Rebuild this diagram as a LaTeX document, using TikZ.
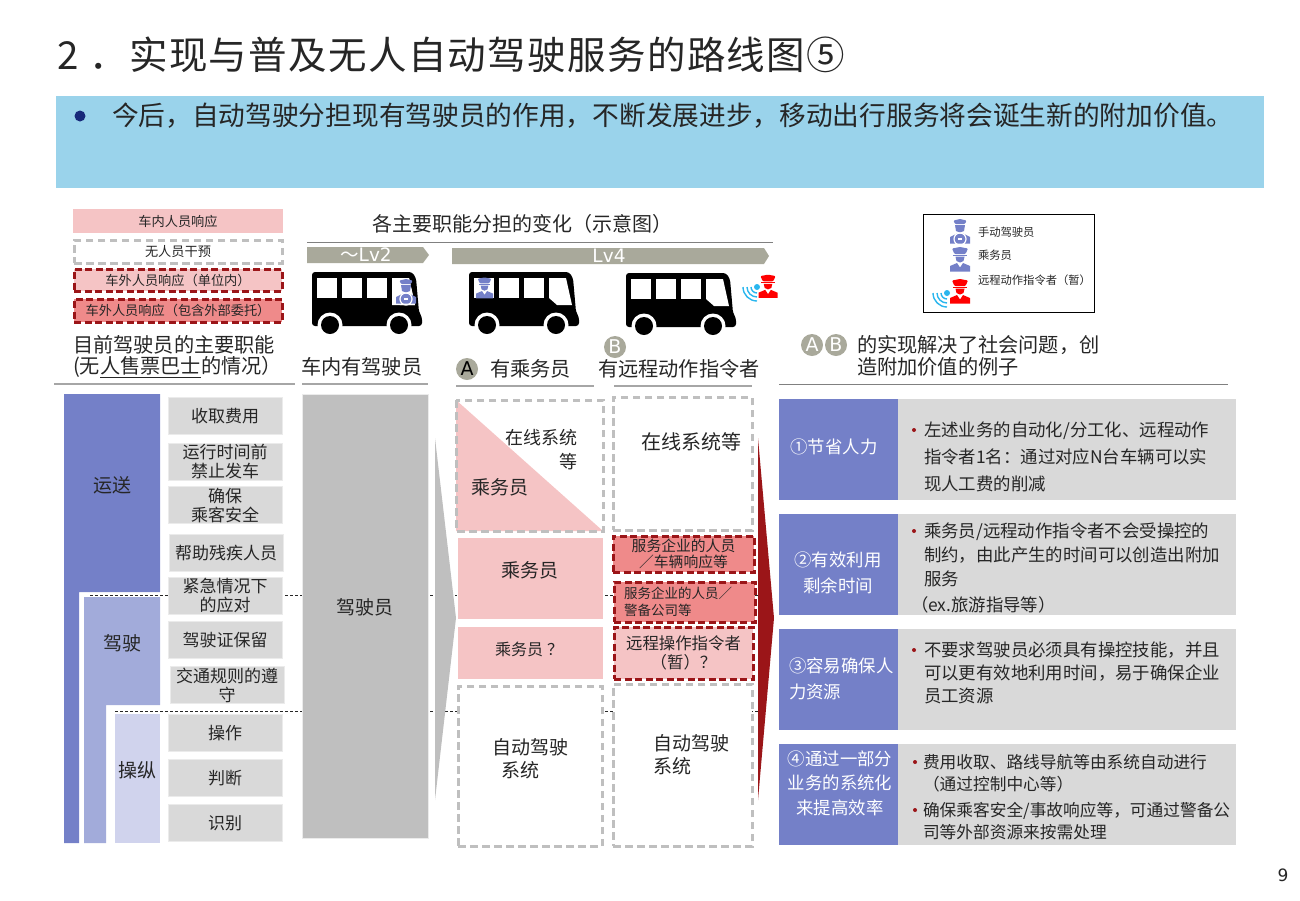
\documentclass[tikz,border=0pt]{standalone}
\usepackage{xcolor}
\usepackage{fontspec}
\setmainfont{Noto Sans CJK SC}
\newfontfamily\latinfont{DejaVu Sans}
\usepackage{tikz}
\usetikzlibrary{positioning}
\definecolor{BannerBlue}{HTML}{9AD3EB}
\definecolor{DotBlue}{HTML}{17297A}
\definecolor{RouteBlue}{HTML}{7480C8}
\definecolor{DriveBlue}{HTML}{A2ABDA}
\definecolor{SteerBlue}{HTML}{D0D3ED}
\definecolor{TaskGray}{HTML}{D9D9D9}
\definecolor{DriverGray}{HTML}{BFBFBF}
\definecolor{RuleGray}{HTML}{A6A6A6}
\definecolor{LvGray}{HTML}{A9A99B}
\definecolor{SoftRed}{HTML}{F5C4C5}
\definecolor{MidRed}{HTML}{EF8A8A}
\definecolor{DarkRed}{HTML}{9B1518}
\definecolor{WifiBlue}{HTML}{29B6EE}
\definecolor{InkGray}{HTML}{262626}
\newcommand{\fsz}[2]{\fontsize{#1}{#2}\selectfont}
\tikzset{
  officer/.pic={
    \fill[rounded corners=1pt] (-8,-11.5) -- (0,-13) -- (8,-11.5) -- (5.5,-6) -- (-5.5,-6) -- cycle;
    \fill (-7,-5.5) -- (7,-5.5) -- (7,-4) -- (-7,-4) -- cycle;
    \fill (-4.5,-3.3) -- (4.5,-3.3) -- (3.5,1) -- (0,2.5) -- (-3.5,1) -- cycle;
    \fill (-10,11.5) -- (-10,6) -- (-3,3) -- (0,7.5) -- (3,3) -- (10,6) -- (10,11.5) -- cycle;
  },
  chauffeur/.pic={
    \fill[rounded corners=1pt] (-6.5,-11.5) -- (0,-13) -- (6.5,-11.5) -- (5,-8) -- (-5,-8) -- cycle;
    \fill (-5,-7) -- (5,-7) -- (4,-1) -- (0,0.5) -- (-4,-1) -- cycle;
    \fill (-10,11.5) -- (-10,5) -- (-3,1.5) -- (3,1.5) -- (10,5) -- (10,11.5) -- cycle;
    \draw[white,line width=1.2pt] (0,7) circle[radius=6pt];
    \fill[white] (-2,6) rectangle (2,8);
  },
  wifi/.pic={
    \fill[WifiBlue] (0,0) circle[radius=3pt];
    \foreach \r in {6,10,14}
      \draw[WifiBlue,line width=1.4pt] (-\r,0) arc[start angle=180,end angle=270,radius=\r pt];
  },
  coach/.pic={
    \fill[black,rounded corners=3pt] (0,0) -- (100,0) -- (104,6) -- (107,40) -- (110,45) -- (110,54) -- (0,54) -- cycle;
    \fill[white] (5,6) rectangle (25,26);
    \fill[white] (30,6) rectangle (50,26);
    \fill[white] (55,6) rectangle (75,26);
    \fill[white] (80,6) -- (97,6) -- (103,33) -- (88,33) -- (80,26) -- cycle;
    \foreach \wx in {18,87} {
      \fill[white] (\wx,53) circle[radius=12.5pt];
      \fill[black] (\wx,53) circle[radius=9pt];
    }
  }
}
\begin{document}
\begin{tikzpicture}[x=1pt,y=-1pt,
  every node/.style={inner sep=0pt,outer sep=0pt,text=InkGray},
  keybox/.style={minimum width=210pt,minimum height=24pt,align=center,font=\fsz{13.2}{15}},
  softbox/.style={fill=SoftRed,draw=white,line width=0.8pt,align=center},
  grayframe/.style={draw=DriverGray,line width=3pt,dash pattern=on 7.5pt off 4.5pt,fill=white},
  redframe/.style={draw=DarkRed,line width=3pt,dash pattern=on 7pt off 3.5pt,align=center},
  taskbox/.style={fill=TaskGray,draw=white!92!black,line width=0.8pt,minimum width=114pt,minimum height=37pt,align=center,font=\fsz{17}{19}},
  head/.style={font=\fsz{20.2}{22},anchor=west,align=left},
  rulegray/.style={draw=RuleGray,line width=1.2pt},
  lvbar/.style={fill=LvGray},
  badge/.style={circle,fill=LvGray,minimum size=22pt,font=\latinfont\fsz{19}{20}},
  gainbox/.style={fill=RouteBlue,minimum width=119pt,minimum height=101pt},
  gainlab/.style={text=white,align=center,font=\fsz{17.4}{26}},
  gainnote/.style={fill=TaskGray,minimum width=338pt,minimum height=101pt},
  note/.style={anchor=west,align=left},
  dot/.style={circle,fill=DarkRed,minimum size=4pt}
]
\useasboundingbox (0,0) rectangle (1300,900);

\node[anchor=west,font=\fsz{38.5}{42}\addfontfeature{LetterSpace=3.5}] (title) at (57,55) {2\hspace{11pt}．实现与普及无人自动驾驶服务的路线图⑤};
\fill[BannerBlue] (56,96) rectangle (1264,188);
\node[circle,fill=DotBlue,minimum size=11pt] (bulletA) at (80,116) {};
\node[anchor=west,font=\fsz{26.7}{30}] (lead) at (112,116) {今后，自动驾驶分担现有驾驶员的作用，不断发展进步，移动出行服务将会诞生新的附加价值。};

\node[keybox,fill=SoftRed] (key1) at (178,221) {车内人员响应};
\node[keybox,grayframe,minimum width=208pt,minimum height=23pt] (key2) at (178,251.5) {无人员干预};
\node[keybox,redframe,fill=SoftRed,minimum width=208pt,minimum height=22pt] (key3) at (178,280) {车外人员响应（单位内）};
\node[keybox,redframe,fill=MidRed,minimum width=208pt,minimum height=23pt] (key4) at (178,310.5) {车外人员响应（包含外部委托）};

\node[font=\fsz{20}{22},anchor=west] (shift) at (372,224) {各主要职能分担的变化（示意图）};
\draw[draw=gray,line width=1pt] (307,242) -- (773,242);
\fill[lvbar] (307,247) -- (423,247) -- (429,255) -- (423,263) -- (307,263) -- cycle;
\node[text=white,font=\fsz{18.5}{20}] (lv2) at (366,255) {～{\latinfont Lv2}};
\fill[lvbar] (452,248) -- (764,248) -- (769,256) -- (764,264) -- (452,264) -- cycle;
\node[text=white,font=\latinfont\fsz{18.5}{20}] (lv4) at (609,256) {Lv4};

\pic at (312,272) {coach};
\pic at (469,272) {coach};
\pic at (626,273) {coach};
\fill[white] (392,278) -- (409,278) -- (415,305) -- (392,305) -- cycle;
\pic[color=RouteBlue,fill=RouteBlue] at (406,292) {chauffeur};
\pic[color=RouteBlue,fill=RouteBlue,scale=0.85] at (484.5,288.5) {officer};
\pic at (757,287) {wifi};
\pic[color=red,fill=red,scale=0.95] at (768,287) {officer};

\node[draw=black,line width=1.4pt,fill=white,minimum width=171pt,minimum height=98pt] (legend) at (1009,263.5) {};
\pic[color=RouteBlue,fill=RouteBlue] at (960,232) {chauffeur};
\pic[color=RouteBlue,fill=RouteBlue] at (960,260) {officer};
\pic at (947,293) {wifi};
\pic[color=red,fill=red] at (960,292) {officer};
\node[anchor=west,font=\fsz{11.3}{12}] (leg1) at (978,232) {手动驾驶员};
\node[anchor=west,font=\fsz{11.3}{12}] (leg2) at (978,255) {乘务员};
\node[anchor=west,font=\fsz{11.3}{12}] (leg3) at (978,280) {远程动作指令者（暂）};

\node[head] (dutyA) at (73,345) {目前驾驶员的主要职能};
\node[head] (dutyB) at (73,367) {(无\underline{人售票巴士}的情况）};
\draw[rulegray] (54,384) -- (295,384);
\node[head] (carA) at (301,367) {车内有驾驶员};
\draw[rulegray] (302,384) -- (428,384);
\node[badge,text=black] (badgeA) at (467,369) {A};
\node[head] (caseA) at (490,369) {有乘务员};
\draw[rulegray] (456,386) -- (594,386);
\node[badge,text=white] (badgeB) at (615,347) {B};
\node[head] (caseB) at (598,369) {有远程动作指令者};
\draw[rulegray] (614,386) -- (752,386);
\node[badge,text=white] (badgeC) at (812,345) {A};
\node[badge,text=white] (badgeD) at (836,345) {B};
\node[head] (gainA) at (857,345) {的实现解决了社会问题，创};
\node[head] (gainB) at (857,367) {造附加价值的例子};
\draw[draw=gray,line width=1pt] (779,384) -- (1228,384);

\fill[RouteBlue] (64,394) -- (160,394) -- (160,592) -- (79,592) -- (79,843) -- (64,843) -- cycle;
\fill[DriveBlue] (84,597) -- (160,597) -- (160,705) -- (106,705) -- (106,843) -- (84,843) -- cycle;
\fill[SteerBlue] (115,714) rectangle (160,843);
\draw[densely dashed,line width=0.7pt,draw=InkGray] (90,595) -- (762,595);
\draw[densely dashed,line width=0.7pt,draw=InkGray] (115,711) -- (762,711);
\node[font=\fsz{19}{22}] (route) at (112,485) {运送};
\node[font=\fsz{19}{22}] (drive) at (122,643) {驾驶};
\node[font=\fsz{19}{22}] (steer) at (137,770) {操纵};

\node[taskbox] (task1) at (225,416) {收取费用};
\node[taskbox] (task2) at (225,462) {运行时间前\\禁止发车};
\node[taskbox] (task3) at (225,505) {确保\\乘客安全};
\node[taskbox] (task4) at (226,553) {帮助残疾人员};
\node[taskbox] (task5) at (225,596) {紧急情况下\\的应对};
\node[taskbox] (task6) at (225,640) {驾驶证保留};
\node[taskbox] (task7) at (227,685) {交通规则的遵\\守};
\node[taskbox] (task8) at (225,733) {\raisebox{-2pt}{操作}};
\node[taskbox] (task9) at (225,778) {\raisebox{-2pt}{判断}};
\node[taskbox] (task10) at (225,823) {识别};

\node[fill=DriverGray,draw=white!92!black,line width=0.8pt,minimum width=126pt,minimum height=444pt] (driver) at (365,616) {};
\node[font=\fsz{19}{22}] (driverlab) at (365,607) {驾驶员};

\fill[DriverGray] (435,438) -- (456,618) -- (435,800) -- cycle;
\fill[DarkRed] (758,438) -- (774,618) -- (758,800) -- cycle;

\fill[SoftRed] (456,400) -- (603,531) -- (456,531) -- cycle;
\draw[grayframe,fill=none] (456,400) rectangle (603,531);
\node[anchor=east,align=right,font=\fsz{18}{24}] (onlineA) at (577,450) {在线系统\\等};
\node[font=\fsz{19}{22}] (crewA) at (500,487) {乘务员};
\node[softbox,minimum width=146pt,minimum height=82pt] (crewB) at (530.5,578) {};
\node[font=\fsz{19}{22}] (crewBlab) at (530,570) {乘务员};
\node[softbox,minimum width=146pt,minimum height=53pt] (crewC) at (530.5,652.5) {};
\node[font=\fsz{16}{19}] (crewClab) at (529,649) {乘务员\hspace{4pt}？};
\node[grayframe,minimum width=144pt,minimum height=160pt] (autoA) at (530,766) {};
\node[font=\fsz{19}{23},align=left] (autoAlab) at (530,758.5) {自动驾驶\\\hspace*{9pt}系统};

\node[grayframe,minimum width=139pt,minimum height=133pt] (onlineB) at (682.5,463.5) {};
\node[font=\fsz{20}{23}] (onlineBlab) at (691,442) {在线系统等};
\node[redframe,fill=MidRed,minimum width=141pt,minimum height=36pt,font=\fsz{14.8}{16}] (remote1) at (683.5,554) {服务企业的人员\\／车辆响应等};
\node[redframe,fill=MidRed,minimum width=141pt,minimum height=40pt] (remote2) at (684.5,602) {};
\node[anchor=west,align=left,font=\fsz{13.5}{17}] (remote2lab) at (624,602) {服务企业的人员／\\警备公司等};
\node[redframe,fill=SoftRed,minimum width=139pt,minimum height=52pt,font=\fsz{16.4}{19}] (remote3) at (683.5,653) {远程操作指令者\\（暂）？};
\node[grayframe,minimum width=139pt,minimum height=162pt] (autoB) at (682.5,765) {};
\node[font=\fsz{19}{23},align=left] (autoBlab) at (691,754.5) {自动驾驶\\系统};

\node[gainbox] (gain1) at (838.5,449.5) {};
\node[gainnote,right=0pt of gain1] (note1) {};
\node[gainlab] (gain1lab) at (834,447) {①节省人力};
\node[gainbox] (gain2) at (838.5,564) {};
\node[gainnote,right=0pt of gain2] (note2) {};
\node[gainlab] (gain2lab) at (838,573) {②有效利用\\剩余时间};
\node[gainbox] (gain3) at (838.5,679.5) {};
\node[gainnote,right=0pt of gain3] (note3) {};
\node[gainlab,anchor=west,align=left] (gain3lab) at (789,679) {③容易确保人\\力资源};
\node[gainbox] (gain4) at (838.5,794.5) {};
\node[gainnote,right=0pt of gain4] (note4) {};
\node[gainlab,font=\fsz{17.4}{24.5}] (gain4lab) at (840,783) {④通过一部分\\业务的系统化\\来提高效率};

\node[dot] (dot1) at (914,430) {};
\node[note,font=\fsz{17.4}{27}] (text1) at (924,457) {左述业务的自动化/分工化、远程动作\\指令者1名：通过对应N台车辆可以实\\现人工费的削减};
\node[dot] (dot2) at (914,531) {};
\node[note,font=\fsz{17.4}{24}] (text2) at (924,555) {乘务员/远程动作指令者不会受操控的\\制约，由此产生的时间可以创造出附加\\服务};
\node[note,font=\fsz{17.4}{19}] (text2b) at (911,605) {（ex.旅游指导等）};
\node[dot] (dot3) at (914,650) {};
\node[note,font=\fsz{17.4}{23}] (text3) at (924,673) {不要求驾驶员必须具有操控技能，并且\\可以更有效地利用时间，易于确保企业\\员工资源};
\node[dot] (dot4) at (915,762) {};
\node[note,font=\fsz{16.7}{22}] (text4) at (923,773) {费用收取、路线导航等由系统自动进行\\（通过控制中心等）};
\node[dot] (dot5) at (915,810) {};
\node[note,font=\fsz{16.7}{22}] (text5) at (923,821) {确保乘客安全/事故响应等，可通过警备公\\司等外部资源来按需处理};

\node[font=\latinfont\fsz{17}{20}] (page) at (1283,875) {9};
\end{tikzpicture}
\end{document}
